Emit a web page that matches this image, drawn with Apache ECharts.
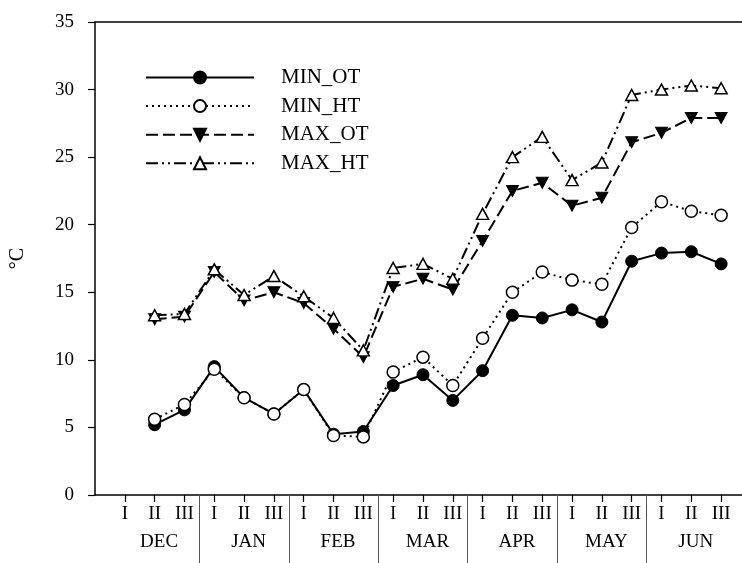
<!DOCTYPE html>
<html>
<head>
<meta charset="utf-8">
<script src="https://cdn.jsdelivr.net/npm/echarts@6/dist/echarts.min.js"></script>
<style>
  html, body { margin: 0; padding: 0; background: #fff; }
  #chart { width: 742px; height: 563px; }
</style>
</head>
<body>
<div id="chart"></div>
<script>
// ---- data ----
var months = ['DEC', 'JAN', 'FEB', 'MAR', 'APR', 'MAY', 'JUN'];
var periods = ['I', 'II', 'III'];
var yTicks = [0, 5, 10, 15, 20, 25, 30, 35];

var minOT = [null, 5.2, 6.3, 9.5, 7.2, 6.0, 7.8, 4.5, 4.7, 8.1, 8.9, 7.0, 9.2, 13.3, 13.1, 13.7, 12.8, 17.3, 17.9, 18.0, 17.1];
var minHT = [null, 5.6, 6.7, 9.3, 7.2, 6.0, 7.8, 4.4, 4.3, 9.1, 10.2, 8.1, 11.6, 15.0, 16.5, 15.9, 15.6, 19.8, 21.7, 21.0, 20.7];
var maxOT = [null, 13.0, 13.2, 16.5, 14.4, 15.0, 14.2, 12.3, 10.2, 15.4, 16.0, 15.2, 18.8, 22.5, 23.1, 21.4, 22.0, 26.1, 26.8, 27.9, 27.9];
var maxHT = [null, 13.3, 13.4, 16.7, 14.8, 16.2, 14.7, 13.1, 10.7, 16.8, 17.1, 16.0, 20.8, 25.0, 26.5, 23.3, 24.6, 29.6, 30.0, 30.3, 30.1];

// ---- derived ----
var nCat = months.length * periods.length;
var catIdx = [];
for (var i = 0; i < nCat; i++) catIdx.push(i);
var sepIdx = [];
for (var m = 1; m < months.length; m++) sepIdx.push(m * 3 - 0.5);
var monthIdx = months.map(function (_, m) { return m * 3 + 1.15; });

function pairs(arr) {
  var out = [];
  arr.forEach(function (v, i) { if (v !== null) out.push([i, v]); });
  return out;
}

var FONT = '"Liberation Serif", "Times New Roman", serif';
var xMin = -1, xMax = 20.7;

var chart = echarts.init(document.getElementById('chart'));
chart.setOption({
  animation: false,
  backgroundColor: '#fff',
  grid: { left: 91, right: 0, top: 22, bottom: 68, containLabel: false },
  legend: {
    orient: 'vertical',
    left: 145,
    top: 67,
    padding: 0,
    itemWidth: 108,
    itemHeight: 15,
    itemGap: 7.6,
    textStyle: { fontFamily: FONT, fontSize: 21, color: '#000', lineHeight: 21, padding: [0, 0, 0, 22] },
    data: ['MIN_OT', 'MIN_HT', 'MAX_OT', 'MAX_HT']
  },
  xAxis: [
    {
      type: 'value', min: xMin, max: xMax, position: 'bottom',
      splitLine: { show: false },
      axisLine: { show: true, onZero: false, lineStyle: { color: '#000', width: 1.5 } },
      axisTick: { show: true, customValues: catIdx, length: 7, lineStyle: { color: '#000', width: 1.2 } },
      axisLabel: {
        customValues: catIdx, margin: 10,
        fontFamily: FONT, fontSize: 19, color: '#000',
        formatter: function (v) { return periods[Math.round(v) % 3]; }
      }
    },
    {
      type: 'value', min: xMin, max: xMax, position: 'bottom',
      splitLine: { show: false },
      axisLine: { show: false, onZero: false },
      axisTick: { show: true, customValues: sepIdx, length: 68, lineStyle: { color: '#555', width: 1 } },
      axisLabel: {
        customValues: monthIdx, margin: 38,
        fontFamily: FONT, fontSize: 19, color: '#000',
        formatter: function (v) { return months[Math.floor(v / 3)]; }
      }
    },
    {
      type: 'value', min: xMin, max: xMax, position: 'top',
      splitLine: { show: false },
      axisLine: { show: true, onZero: false, lineStyle: { color: '#000', width: 1.5 } },
      axisTick: { show: false },
      axisLabel: { show: false }
    }
  ],
  yAxis: {
    type: 'value', min: yTicks[0], max: yTicks[yTicks.length - 1], interval: 5,
    name: '°C', nameLocation: 'middle', nameGap: 67,
    nameTextStyle: { fontFamily: FONT, fontSize: 20, color: '#000' },
    splitLine: { show: false },
    axisLine: { show: true, onZero: false, lineStyle: { color: '#000', width: 1.5 } },
    axisTick: { show: true, length: 7, lineStyle: { color: '#000', width: 1.2 } },
    axisLabel: { fontFamily: FONT, fontSize: 19, color: '#000', margin: 21 }
  },
  series: [
    {
      name: 'MIN_OT', type: 'line', data: pairs(minOT),
      symbol: 'circle', symbolSize: 12,
      lineStyle: { color: '#000', width: 2, type: 'solid' },
      itemStyle: { color: '#000', borderColor: '#000', borderWidth: 1 },
      z: 4
    },
    {
      name: 'MIN_HT', type: 'line', data: pairs(minHT),
      symbol: 'circle', symbolSize: 12,
      lineStyle: { color: '#000', width: 2, type: [2, 4] },
      itemStyle: { color: '#fff', borderColor: '#000', borderWidth: 1.5 },
      z: 5
    },
    {
      name: 'MAX_OT', type: 'line', data: pairs(maxOT),
      symbol: 'triangle', symbolRotate: 180, symbolSize: [12, 11],
      lineStyle: { color: '#000', width: 2, type: [12, 5] },
      itemStyle: { color: '#000', borderColor: '#000', borderWidth: 1 },
      z: 4
    },
    {
      name: 'MAX_HT', type: 'line', data: pairs(maxHT),
      symbol: 'triangle', symbolSize: [12, 11],
      lineStyle: { color: '#000', width: 2, type: [12, 4, 2, 4, 2, 4] },
      itemStyle: { color: '#fff', borderColor: '#000', borderWidth: 1.5 },
      z: 5
    }
  ]
});
</script>
</body>
</html>
